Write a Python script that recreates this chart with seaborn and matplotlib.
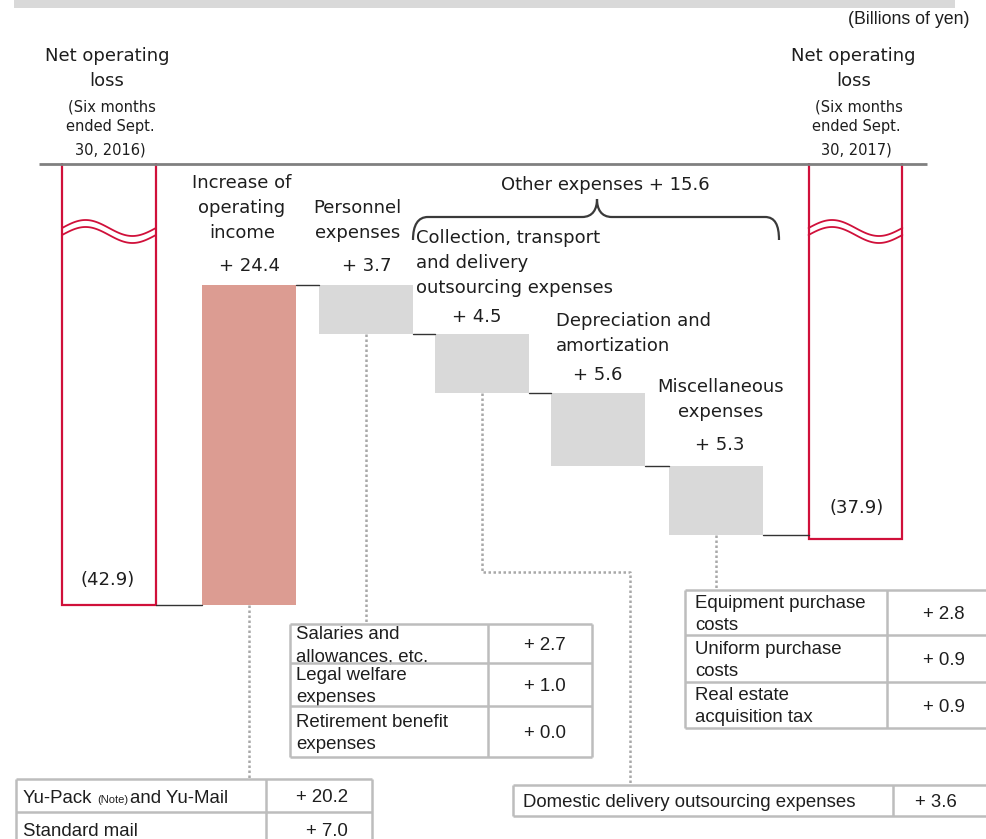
import numpy as np
import pandas as pd
import matplotlib
matplotlib.use("Agg")
import matplotlib.pyplot as plt
from matplotlib.path import Path
from matplotlib.patches import PathPatch
import seaborn as sns

# ---------------- data (billions of yen) ----------------
start_value = -42.9          # net operating loss, six months ended Sept. 30, 2016
end_value = -37.9            # net operating loss, six months ended Sept. 30, 2017
step_names = [
    ["Increase of", "operating", "income"],
    ["Personnel", "expenses"],
    ["Collection, transport", "and delivery", "outsourcing expenses"],
    ["Depreciation and", "amortization"],
    ["Miscellaneous", "expenses"],
]
step_changes = [24.4, -3.7, -4.5, -5.6, -5.3]
other_expenses_total = 15.6

income_items = ["Yu-Pack", "Standard mail"]
income_values = [20.2, 7.0]
personnel_items = [["Salaries and", "allowances, etc."],
                   ["Legal welfare", "expenses"],
                   ["Retirement benefit", "expenses"]]
personnel_values = [2.7, 1.0, 0.0]
outsourcing_items = ["Domestic delivery outsourcing expenses"]
outsourcing_values = [3.6]
misc_items = [["Equipment purchase", "costs"],
              ["Uniform purchase", "costs"],
              ["Real estate", "acquisition tax"]]
misc_values = [2.8, 0.9, 0.9]

# ---------------- layout / style ----------------
positions = [0, 1.2, 2.2, 3.19, 4.18, 5.19, 6.38]
RED = "#d0103a"
PINK = "#dc9c92"
GREY = "#d9d9d9"
INK = "#1e1e1e"
TABLE_LINE = "#bdbdbd"
DOTS = "#a8a8a8"
LABEL_FONT = "DejaVu Sans"
TABLE_FONT = "Liberation Sans"

sns.set_theme(style="white")
plt.rcParams["font.family"] = [LABEL_FONT]

W, H = 987, 839
fig = plt.figure(figsize=(W / 100, H / 100), dpi=100)
fig.patch.set_facecolor("white")

# bar axes: its top edge is the broken baseline of the chart
top_px = 163
ax = fig.add_axes([0, 0, 1, (H - top_px) / H])
ax.set_facecolor("none")

# waterfall geometry from the data
heights = [start_value]
bottoms = [0.0]
running = start_value
levels = [start_value]
for c in step_changes:
    bottoms.append(running)
    heights.append(c)
    running += c
    levels.append(running)
heights.append(end_value)
bottoms.append(0.0)

df = pd.DataFrame({"pos": positions, "height": heights})
sns.barplot(data=df, x="pos", y="height", native_scale=True, orient="x",
            width=0.81, color=GREY, errorbar=None, linewidth=0,
            bottom=np.array(bottoms), ax=ax)

bar_w = 0.81 * np.min(np.diff(positions))
face = ["white", PINK, GREY, GREY, GREY, GREY, "white"]
for i, p in enumerate(ax.patches):
    p.set_facecolor(face[i])
    if face[i] == "white":
        p.set_edgecolor(RED)
        p.set_linewidth(1.6)
    else:
        p.set_edgecolor("none")
        p.set_linewidth(0)

# connector lines between consecutive bars
for i in range(len(positions) - 1):
    ax.plot([positions[i] + bar_w / 2, positions[i + 1] - bar_w / 2],
            [levels[i], levels[i]], color="#333333", lw=1.0, zorder=1)

ax.set_xlim(-109 / 117, (W - 109) / 117)
ax.set_ylim(-60.75, -9.19)
ax.axis("off")

# overlay in pixel coordinates for annotations and tables
ov = fig.add_axes([0, 0, 1, 1], zorder=5)
ov.set_xlim(0, W)
ov.set_ylim(H, 0)
ov.axis("off")
ov.patch.set_alpha(0)


def to_px(x, y):
    d = ax.transData.transform((x, y))
    return ov.transData.inverted().transform(d)


def bar_px(i):
    lo = min(bottoms[i], bottoms[i] + heights[i])
    hi = max(bottoms[i], bottoms[i] + heights[i])
    cx, ytop = to_px(positions[i], hi)
    _, ybot = to_px(positions[i], lo)
    xl, _ = to_px(positions[i] - bar_w / 2, 0)
    xr, _ = to_px(positions[i] + bar_w / 2, 0)
    return cx, ytop, ybot, xl, xr


def label(x, y, s, size=13, ha="center", family=LABEL_FONT, color=INK, **kw):
    return ov.text(x, y, s, ha=ha, va="center", fontsize=size,
                   family=family, color=color, **kw)


# top band and baseline
ov.fill_between([14, 955], 0, 8, color="#d9d9d9", lw=0)
ov.plot([39, 927], [top_px + 1, top_px + 1], color="#808080", lw=2.0,
        solid_capstyle="butt", zorder=6)

label(970, 20, "(Billions of yen)", size=12.8, ha="right", family=TABLE_FONT)

# end-point headings
for cx, year in [(bar_px(0)[0], "2016"), (bar_px(6)[0], "2017")]:
    label(cx - 2, 56, "Net operating")
    label(cx - 2, 81, "loss")
    label(cx + 3, 107, "(Six months", size=10.5)
    label(cx + 1, 127, "ended Sept.", size=10.5)
    label(cx + 1, 150, "30, " + year + ")", size=10.5)

# wavy break marks on the two loss bars
t = np.linspace(0, 1, 80)
for i in (0, 6):
    _, _, _, xl, xr = bar_px(i)
    xs = xl + (xr - xl) * t
    for base in (228, 235):
        ov.plot(xs, base - 8 * np.sin(2 * np.pi * t), color=RED, lw=1.3)

# values of the two loss bars
cx, _, yb, _, _ = bar_px(0)
label(cx - 1, yb - 25, f"({abs(start_value):.1f})")
cx, _, yb, _, _ = bar_px(6)
label(cx + 1, yb - 31, f"({abs(end_value):.1f})")

# step labels (name lines + value) positioned from each bar top
name_specs = [
    # (name x offset, alignment, first-line offset above top, value x offset, value offset)
    (-7.5, "center", 102, 0, 19),
    (-9, "center", 77, 0, 19),
    (None, "left", 96, -5, 17),
    (None, "left", 72, 0, 18),
    (4, "center", 79, 4, 21),
]
for k, (names, change) in enumerate(zip(step_names, step_changes)):
    cx, ytop, ybot, xl, xr = bar_px(k + 1)
    dx, ha, first, vdx, voff = name_specs[k]
    if ha == "left":
        nx = xl - 19 if k == 2 else xl + 5
    else:
        nx = cx + dx
    for j, line in enumerate(names):
        label(nx, ytop - first + 25 * j, line, ha=ha)
    label(cx + vdx, ytop - voff, f"+ {abs(change):.1f}")

# brace over the other-expense steps
label(605, 185, f"Other expenses + {other_expenses_total:.1f}")
verts = [(413, 240), (413, 225), (418, 217), (428, 217),
         (582, 217),
         (593, 217), (597, 209), (597, 199),
         (597, 209), (601, 217), (612, 217),
         (765, 217),
         (775, 217), (779, 225), (779, 240)]
codes = [Path.MOVETO, Path.CURVE4, Path.CURVE4, Path.CURVE4,
         Path.LINETO,
         Path.CURVE4, Path.CURVE4, Path.CURVE4,
         Path.CURVE4, Path.CURVE4, Path.CURVE4,
         Path.LINETO,
         Path.CURVE4, Path.CURVE4, Path.CURVE4]
ov.add_patch(PathPatch(Path(verts, codes), fill=False, edgecolor="#3a3a3a", lw=1.6))


# ---------------- breakdown tables ----------------
def table(left, right, col, edges, rows, values, text_x, value_x, value_ha="center"):
    kw = dict(color=TABLE_LINE, lw=1.8, solid_capstyle="butt", zorder=4)
    ov.plot([left, left], [edges[0], edges[-1]], **kw)
    ov.plot([col, col], [edges[0], edges[-1]], **kw)
    ov.plot([right, right], [edges[0], edges[-1]], **kw)
    for e in edges:
        ov.plot([left, right], [e, e], **kw)
    for r, (lines, v) in enumerate(zip(rows, values)):
        mid = (edges[r] + edges[r + 1]) / 2 + 2
        if isinstance(lines, str):
            lines = [lines]
        n = len(lines)
        for j, line in enumerate(lines):
            label(text_x, mid + 22 * (j - (n - 1) / 2), line, size=13.4,
                  ha="left", family=TABLE_FONT)
        label(value_x, mid, f"+ {v:.1f}", size=13.4, ha=value_ha, family=TABLE_FONT)


table(290, 592, 488, [624, 663, 706, 757], personnel_items, personnel_values, 296, 545)
table(685, 1000, 887, [590, 635, 682, 728], misc_items, misc_values, 695, 944)
table(513, 1000, 893, [785, 816], outsourcing_items, outsourcing_values, 523, 936)

# income table with a small note marker in the first row
edges = [779, 812, 846]
kw = dict(color=TABLE_LINE, lw=1.8, solid_capstyle="butt", zorder=4)
for xx in (16, 266, 372):
    ov.plot([xx, xx], [edges[0], edges[-1]], **kw)
for e in edges:
    ov.plot([16, 372], [e, e], **kw)
renderer = fig.canvas.get_renderer()
base_y = 803
t1 = ov.text(23, base_y, income_items[0], fontsize=13.4, family=TABLE_FONT,
             color=INK, va="baseline", ha="left")
x_next = 23 + t1.get_window_extent(renderer).width + 5
t2 = ov.text(x_next, base_y, "(Note)", fontsize=8, family=TABLE_FONT,
             color=INK, va="baseline", ha="left")
x_next += t2.get_window_extent(renderer).width + 2
ov.text(x_next, base_y, "and Yu-Mail", fontsize=13.4, family=TABLE_FONT,
        color=INK, va="baseline", ha="left")
label(348, 797, f"+ {income_values[0]:.1f}", size=13.4, ha="right", family=TABLE_FONT)
label(23, 831, income_items[1], size=13.4, ha="left", family=TABLE_FONT)
label(348, 831, f"+ {income_values[1]:.1f}", size=13.4, ha="right", family=TABLE_FONT)

# dotted leaders from the bars to their breakdowns
dot = dict(color=DOTS, lw=1.8, linestyle=(0, (1, 1)), zorder=3)
cx, _, yb, _, _ = bar_px(1)
ov.plot([cx, cx], [yb, edges[0]], **dot)
cx, _, yb, _, _ = bar_px(2)
ov.plot([cx, cx], [yb, 624], **dot)
cx, _, yb, _, _ = bar_px(3)
ov.plot([cx, cx, 630, 630], [yb, 572, 572, 785], **dot)
cx, _, yb, _, _ = bar_px(5)
ov.plot([cx, cx], [yb, 590], **dot)

fig.savefig("out.png", dpi=100, facecolor="white")
